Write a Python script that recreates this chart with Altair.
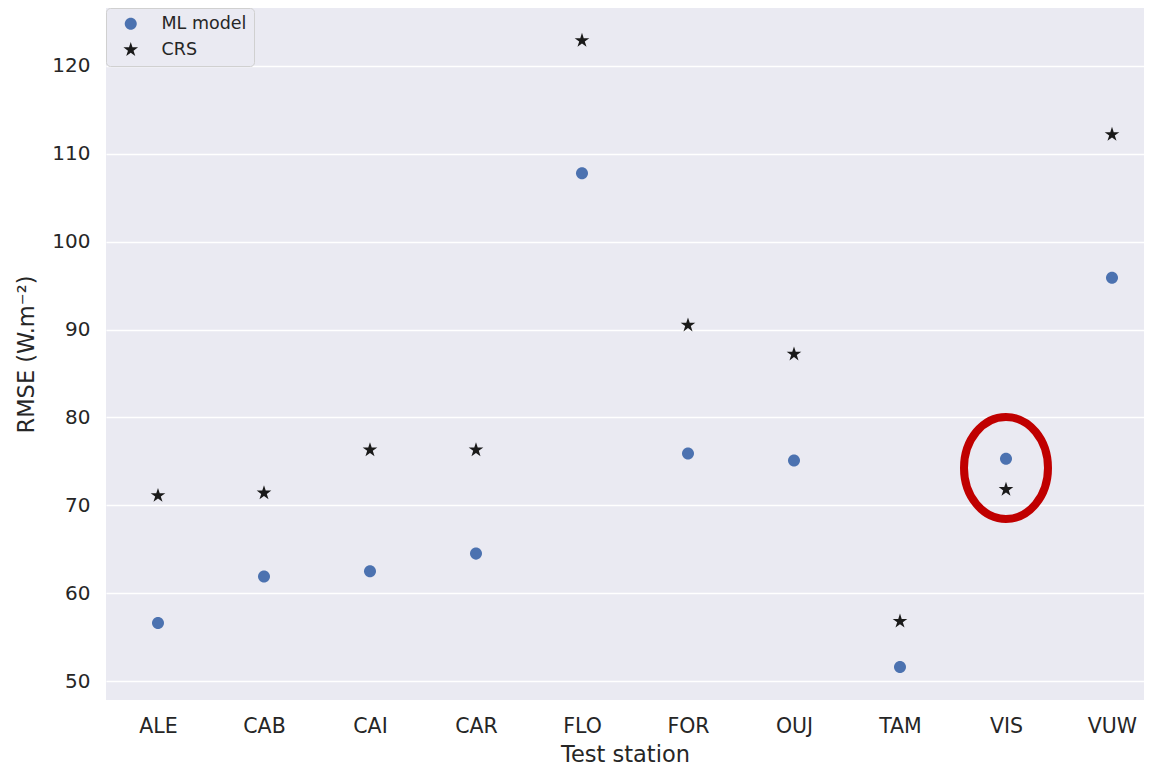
import math
import altair as alt
import pandas as pd

stations = ["ALE", "CAB", "CAI", "CAR", "FLO", "FOR", "OUJ", "TAM", "VIS", "VUW"]
ml_model = [56.6, 61.9, 62.5, 64.5, 107.8, 75.9, 75.1, 51.6, 75.3, 95.9]
crs = [71.1, 71.4, 76.3, 76.3, 122.9, 90.5, 87.2, 56.8, 71.8, 112.2]
series_names = ["ML model", "CRS"]
series_colors = ["#4c72b0", "#1a1a1a"]
highlight_station = ["VIS"]
highlight_value = [74.25]

rows = []
for s, v in zip(stations, ml_model):
    rows.append({"station": s, "rmse": v, "series": "ML model"})
for s, v in zip(stations, crs):
    rows.append({"station": s, "rmse": v, "series": "CRS"})
df = pd.DataFrame(rows)
hl = pd.DataFrame({"station": highlight_station, "rmse": highlight_value})

W, H = 1038, 692
FONT = "DejaVu Sans"
TXT = "#262626"


def ellipse_path(a, b):
    k = 0.5523
    return (
        f"M {a:.4f},0 C {a:.4f},{k*b:.4f} {k*a:.4f},{b:.4f} 0,{b:.4f} "
        f"C {-k*a:.4f},{b:.4f} {-a:.4f},{k*b:.4f} {-a:.4f},0 "
        f"C {-a:.4f},{-k*b:.4f} {-k*a:.4f},{-b:.4f} 0,{-b:.4f} "
        f"C {k*a:.4f},{-b:.4f} {a:.4f},{-k*b:.4f} {a:.4f},0 Z"
    )


def star_path(r_out=1.0, r_in=0.382):
    pts = []
    for i in range(10):
        r = r_out if i % 2 == 0 else r_in
        ang = -math.pi / 2 + i * math.pi / 5
        pts.append(f"{r*math.cos(ang):.4f},{r*math.sin(ang):.4f}")
    return "M " + " L ".join(pts) + " Z"


circle_shape = ellipse_path(0.78, 0.78)
star_shape = star_path()
series_shapes = [circle_shape, star_shape]

x_enc = alt.X(
    "station:N",
    sort=stations,
    scale=alt.Scale(domain=stations, padding=0.3962, align=0.619),
    axis=alt.Axis(
        title="Test station", labelAngle=0, labelFontSize=20.5, titleFontSize=22.5,
        labelPadding=16, titlePadding=7, ticks=False, domain=False, grid=False,
        labelColor=TXT, titleColor=TXT, labelFont=FONT, titleFont=FONT,
        titleFontWeight="normal",
    ),
)
y_enc = alt.Y(
    "rmse:Q",
    scale=alt.Scale(domain=[47.84, 126.6], nice=False, zero=False),
    axis=alt.Axis(
        title="RMSE (W.m⁻²)", values=[50, 60, 70, 80, 90, 100, 110, 120],
        labelFontSize=20, titleFontSize=22.5, labelPadding=16, titlePadding=13,
        ticks=False, domain=False, grid=True, gridColor="white", gridWidth=1.5,
        labelColor=TXT, titleColor=TXT, labelFont=FONT, titleFont=FONT,
        titleFontWeight="normal",
    ),
)

leg = alt.Legend(
    title=None, orient="top-left", offset=0,
    fillColor="#eaeaf2", strokeColor="#d0d0d0", padding=7, cornerRadius=4,
    labelFontSize=17.5, labelFont=FONT, labelColor=TXT, labelOffset=22,
    symbolOffset=9, rowPadding=7, symbolSize=237, symbolStrokeWidth=0,
)

points = alt.Chart(df).mark_point(filled=True, opacity=1, size=237, strokeWidth=0).encode(
    x=x_enc,
    y=y_enc,
    color=alt.Color("series:N", scale=alt.Scale(domain=series_names, range=series_colors), legend=leg),
    shape=alt.Shape("series:N", scale=alt.Scale(domain=series_names, range=series_shapes), legend=leg),
)

ring = alt.Chart(hl).mark_point(
    shape=ellipse_path(42 / 51, 1.0), size=102 * 102, filled=False, stroke="#c00000",
    strokeWidth=8, opacity=1,
).encode(x=alt.X("station:N", sort=stations), y="rmse:Q")

chart = alt.layer(points, ring).properties(
    width=W, height=H,
    autosize=alt.AutoSizeParams(type="none"),
    padding={"left": 98, "top": 0, "right": 0, "bottom": 67},
    background="white",
).configure_view(
    fill="#eaeaf2", stroke=None,
)

chart.save("out.html", embed_options={"renderer": "svg", "actions": False})
